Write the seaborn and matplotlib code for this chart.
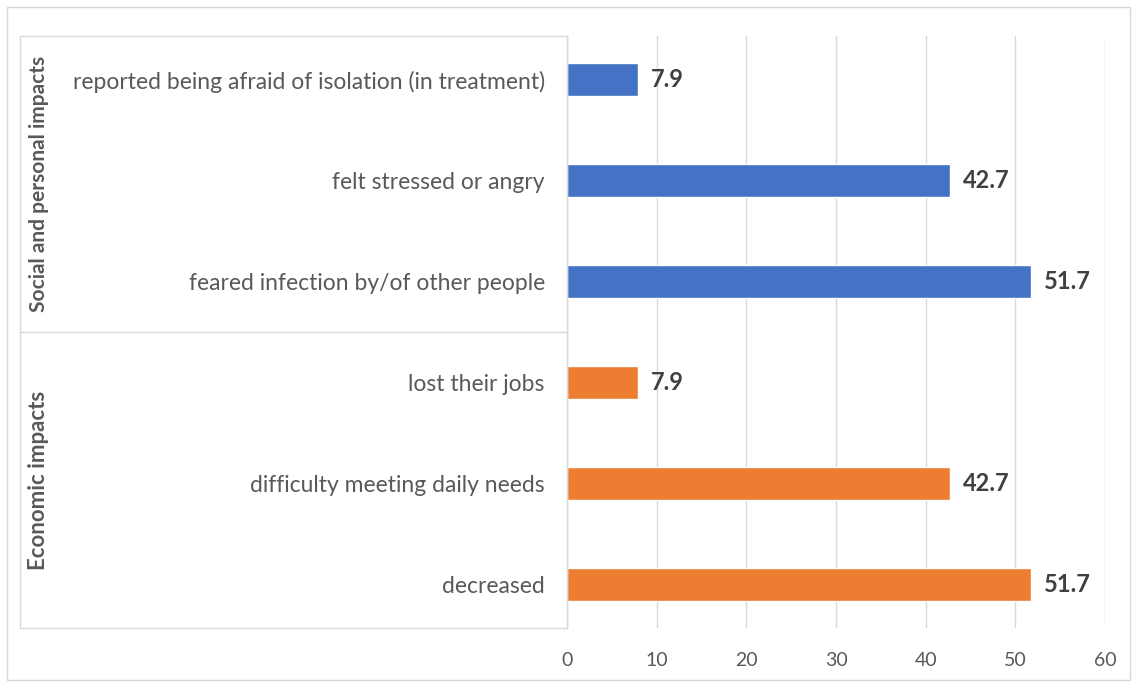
import matplotlib
matplotlib.use("Agg")
import matplotlib.pyplot as plt
import seaborn as sns
import pandas as pd
from matplotlib.patches import Rectangle

categories = [
    "reported being afraid of isolation (in treatment)",
    "felt stressed or angry",
    "feared infection by/of other people",
    "lost their jobs",
    "difficulty meeting daily needs",
    "decreased",
]
groups = [
    "Social and personal impacts",
    "Social and personal impacts",
    "Social and personal impacts",
    "Economic impacts",
    "Economic impacts",
    "Economic impacts",
]
values = [7.9, 42.7, 51.7, 7.9, 42.7, 51.7]
group_names = ["Social and personal impacts", "Economic impacts"]
xticks = [0, 10, 20, 30, 40, 50, 60]

df = pd.DataFrame({"category": categories, "group": groups, "value": values})

sns.set_theme(style="white")
plt.rcParams["font.family"] = ["Lato", "DejaVu Sans"]

fig = plt.figure(figsize=(11.38, 6.85), dpi=100)
ax = fig.add_axes([567 / 1138, 1 - 628 / 685, (1105 - 567) / 1138, (628 - 36) / 685])

palette = {"Social and personal impacts": "#4472C4", "Economic impacts": "#ED7D31"}
sns.barplot(data=df, x="value", y="category", hue="group", palette=palette,
            dodge=False, width=0.33, orient="h", ax=ax, legend=False,
            saturation=1)

ax.set_xlim(0, 60)
ax.set_xticks(xticks)
ax.set_xlabel("")
ax.set_ylabel("")
ax.grid(axis="x", color="#d9d9d9", linewidth=1)
ax.set_axisbelow(True)
for s in ["top", "right", "bottom"]:
    ax.spines[s].set_visible(False)
ax.spines["left"].set_color("#d9d9d9")
ax.spines["left"].set_linewidth(1)
ax.tick_params(axis="y", length=0, pad=16, labelsize=16.5, labelcolor="#595959")
ax.tick_params(axis="x", length=0, pad=17, labelsize=14, labelcolor="#595959")

for i, v in enumerate(values):
    ax.text(v + 1.5, i, f"{v}", va="center", ha="left", fontsize=17,
            fontweight="bold", color="#404040")

# multi-level category box
x_left = (20 - 567) / 538
line_kw = dict(transform=ax.transAxes, clip_on=False, color="#d9d9d9", linewidth=1)
for yy in [0.0, 0.5, 1.0]:
    ax.plot([x_left, 0], [yy, yy], **line_kw)
ax.plot([x_left, x_left], [0, 1], **line_kw)

xg = (39 - 567) / 538
ax.text(xg, 0.75, group_names[0], transform=ax.transAxes, rotation=90,
        ha="center", va="center", fontsize=15, fontweight="bold", color="#595959")
ax.text(xg, 0.25, group_names[1], transform=ax.transAxes, rotation=90,
        ha="center", va="center", fontsize=16, fontweight="bold", color="#595959")

# outer chart border
fig.patches.append(Rectangle((7 / 1138, 5 / 685), 1123 / 1138, 673 / 685,
                             transform=fig.transFigure, fill=False,
                             edgecolor="#d9d9d9", linewidth=1))

fig.savefig("out.png", dpi=100)
